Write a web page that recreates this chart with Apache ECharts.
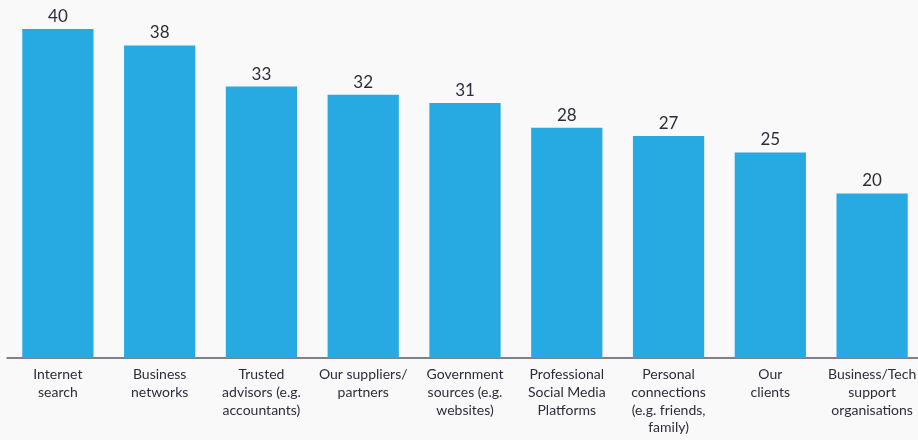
<!DOCTYPE html>
<html><head><meta charset="utf-8">
<script src="https://cdn.jsdelivr.net/npm/echarts@6/dist/echarts.min.js"></script>
<style>html,body{margin:0;padding:0;background:#f9f9f9;overflow:hidden;width:918px;height:440px;}#c{width:926px;height:440px;}</style>
</head><body><div id="c"></div>
<script>
const categories = ["Internet\nsearch","Business\nnetworks","Trusted\nadvisors (e.g.\naccountants)","Our suppliers/\npartners","Government\nsources (e.g.\nwebsites)","Professional\nSocial Media\nPlatforms","Personal\nconnections\n(e.g. friends,\nfamily)","Our\nclients","Business/Tech\nsupport\norganisations"];
const values = [40,38,33,32,31,28,27,25,20];
const chart = echarts.init(document.getElementById('c'));
chart.setOption({
  backgroundColor:'#f9f9f9',
  animation:false,
  grid:{left:7,top:29,width:916,height:329,containLabel:false},
  xAxis:{type:'category',data:categories,
    axisLine:{lineStyle:{color:'#555a66',width:1.5}},axisTick:{show:false},
    axisLabel:{interval:0,margin:8,color:'#2d2d3a',fontSize:14,lineHeight:17.7,fontFamily:'Lato'}},
  yAxis:{type:'value',min:0,max:40,show:false,splitLine:{show:false}},
  series:[{type:'bar',data:values,barWidth:'70%',itemStyle:{color:'#27aae1'},
    label:{show:true,position:'top',distance:4,color:'#2d2d3a',fontSize:17,fontFamily:'Lato'}}]
});
</script></body></html>
